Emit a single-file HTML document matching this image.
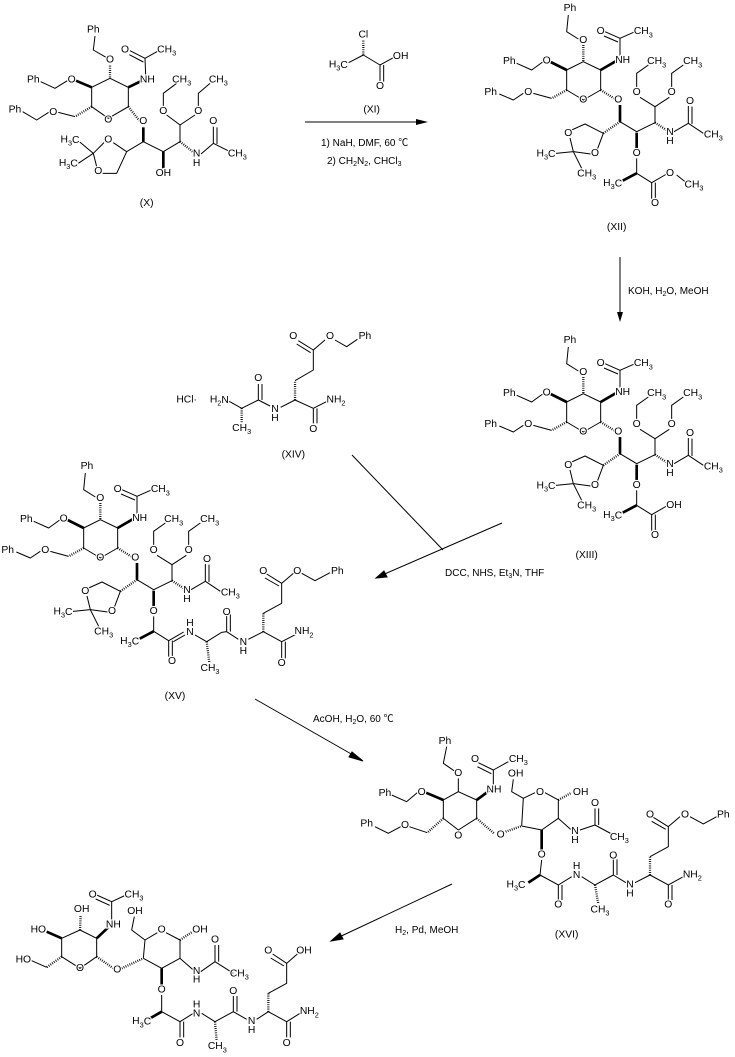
<!DOCTYPE html>
<html><head><meta charset="utf-8"><style>
html,body{margin:0;padding:0;background:#fff}
svg{display:block}
.b{fill:none;stroke:#000;stroke-width:3;stroke-linejoin:round}
.w{fill:none;stroke:#000;stroke-width:8}
.h{fill:none;stroke:#000;stroke-width:7;stroke-dasharray:2.5,4}
.t{font-family:"Liberation Sans",Arial,sans-serif;font-size:31px;text-anchor:middle;dominant-baseline:central;fill:#000;paint-order:stroke;stroke:#fff;stroke-width:7px}
.T{font-family:"Liberation Sans","Noto Sans CJK SC",sans-serif;font-size:10px;fill:#000}
.a{fill:none;stroke:#000;stroke-width:1}
</style></head><body>
<svg width="735" height="1057" viewBox="0 0 735 1057" xmlns="http://www.w3.org/2000/svg">
<defs>
<g id="core">
<path class="b" d="M295,45 L290,95 L325,117"/>
<path class="h" d="M340,135 L340,185"/>
<path class="b" d="M290,210 L340,185 L392,210 L392,270 L340,300 L290,270 Z"/>
<path class="w" d="M392,210 L440,182"/>
<path class="b" d="M450,168 L450,115 L495,95 M450,115 L405,95 M444,126 L402,108"/>
<path class="w" d="M290,210 L242,186"/>
<path class="b" d="M218,186 L185,210 L140,190"/>
<path class="h" d="M290,270 L245,295"/>
<path class="b" d="M245,295 L190,280 M160,280 L130,300 L88,282"/>
<path class="h" d="M392,270 L432,295"/>
<path class="w" d="M450,315 L450,365"/>
<path class="b" d="M450,365 L500,395 L555,368 L555,320 L510,292 M500,262 L500,220 L535,195 M555,320 L598,292 M605,262 L605,220 L640,195"/>
<path class="h" d="M555,368 L592,392"/>
<path class="b" d="M612,395 L655,370 L700,400 M655,370 L655,318 M666,372 L666,320"/>
<path class="w" d="M500,398 L500,446"/>
<path class="b" d="M500,475 L500,520 L545,548 L590,522 M545,548 L545,596 M556,548 L556,596"/>
<path class="w" d="M500,520 L458,542"/>
<path class="h" d="M450,365 L400,400"/>
<path class="b" d="M400,400 L345,372 L305,390 M400,400 L382,448 M362,462 L310,455 L300,414 M310,455 L258,460 M310,455 L335,505"/>
<text class="t" x="300" y="25">Ph</text>
<text class="t" x="340" y="122">O</text>
<text class="t" x="230" y="183">O</text>
<text class="t" x="118" y="185">Ph</text>
<text class="t" x="175" y="277">O</text>
<text class="t" x="62" y="277">Ph</text>
<text class="t" x="340" y="300">O</text>
<text class="t" x="445" y="300">O</text>
<text class="t" x="458" y="182">NH</text>
<text class="t" x="392" y="95">O</text>
<text class="t" x="520" y="95">CH<tspan font-size="22" dy="8">3</tspan></text>
<text class="t" x="500" y="277">O</text>
<text class="t" x="605" y="277">O</text>
<text class="t" x="560" y="185">CH<tspan font-size="22" dy="8">3</tspan></text>
<text class="t" x="668" y="185">CH<tspan font-size="22" dy="8">3</tspan></text>
<text class="t" x="600" y="397">N</text>
<text class="t" x="600" y="425">H</text>
<text class="t" x="660" y="305">O</text>
<text class="t" x="730" y="405">CH<tspan font-size="22" dy="8">3</tspan></text>
<text class="t" x="500" y="460">O</text>
<text class="t" x="295" y="400">O</text>
<text class="t" x="375" y="460">O</text>
<text class="t" x="228" y="462">H<tspan font-size="22" dy="8">3</tspan><tspan dy="-8">C</tspan></text>
<text class="t" x="350" y="522">CH<tspan font-size="22" dy="8">3</tspan></text>
<text class="t" x="428" y="550">H<tspan font-size="22" dy="8">3</tspan><tspan dy="-8">C</tspan></text>
<text class="t" x="555" y="610">O</text>
</g>
</defs>

<!-- (X) -->
<g transform="scale(0.33333)">
<path class="b" d="M285,108 L280,150 L318,172"/>
<path class="h" d="M330,197 L330,235"/>
<path class="b" d="M275,262 L330,235 L385,262 L385,320 L325,355 L275,320 Z"/>
<path class="w" d="M385,262 L430,240"/>
<path class="b" d="M437,225 L435,175 L480,150 M435,175 L390,152 M430,186 L388,164"/>
<path class="w" d="M275,262 L228,242"/>
<path class="b" d="M202,242 L165,265 L122,245"/>
<path class="h" d="M275,320 L225,350"/>
<path class="b" d="M225,350 L175,337 M146,337 L110,360 L68,335"/>
<path class="h" d="M385,320 L418,362"/>
<path class="w" d="M430,382 L430,425"/>
<path class="b" d="M430,425 L490,455 L540,425 L540,375 L500,345 M490,322 L490,280 L530,250 M540,375 L585,345 M595,322 L595,280 L630,250"/>
<path class="w" d="M490,455 L490,505"/>
<path class="h" d="M540,425 L582,458"/>
<path class="b" d="M603,462 L640,430 L690,455 M640,430 L640,380 M651,432 L651,382"/>
<path class="b" d="M430,425 L380,455 L340,428 M312,428 L280,460 L290,500 M308,520 L350,520 L380,455 M280,460 L238,425 M280,460 L235,490"/>
<text class="t" x="280" y="90">Ph</text>
<text class="t" x="330" y="180">O</text>
<text class="t" x="215" y="240">O</text>
<text class="t" x="100" y="240">Ph</text>
<text class="t" x="160" y="337">O</text>
<text class="t" x="45" y="330">Ph</text>
<text class="t" x="325" y="360">O</text>
<text class="t" x="430" y="365">O</text>
<text class="t" x="442" y="240">NH</text>
<text class="t" x="375" y="150">O</text>
<text class="t" x="500" y="150">CH<tspan font-size="22" dy="8">3</tspan></text>
<text class="t" x="490" y="335">O</text>
<text class="t" x="595" y="335">O</text>
<text class="t" x="545" y="240">CH<tspan font-size="22" dy="8">3</tspan></text>
<text class="t" x="655" y="240">CH<tspan font-size="22" dy="8">3</tspan></text>
<text class="t" x="490" y="520">OH</text>
<text class="t" x="590" y="462">N</text>
<text class="t" x="590" y="490">H</text>
<text class="t" x="640" y="365">O</text>
<text class="t" x="712" y="462">CH<tspan font-size="22" dy="8">3</tspan></text>
<text class="t" x="325" y="420">O</text>
<text class="t" x="295" y="515">O</text>
<text class="t" x="210" y="420">H<tspan font-size="22" dy="8">3</tspan><tspan dy="-8">C</tspan></text>
<text class="t" x="205" y="490">H<tspan font-size="22" dy="8">3</tspan><tspan dy="-8">C</tspan></text>
<text class="t" x="440" y="610" font-size="30">(X)</text>
</g>

<!-- (XI) -->
<g transform="translate(290,20) scale(0.33333)">
<path class="h" d="M220,62 L220,105"/>
<path class="b" d="M220,105 L172,130 M220,105 L270,135 L312,112 M270,135 L270,185 M281,135 L281,185"/>
<text class="t" x="220" y="45">Cl</text>
<text class="t" x="145" y="135">H<tspan font-size="22" dy="8">3</tspan><tspan dy="-8">C</tspan></text>
<text class="t" x="332" y="110">OH</text>
<text class="t" x="270" y="200">O</text>
<text class="t" x="245" y="270" font-size="30">(XI)</text>
</g>
<line class="a" x1="305" y1="122" x2="424" y2="122"/>
<path d="M416,119 L428,122 L416,125 Z" fill="#000"/>
<text class="T" x="321" y="146">1) NaH, DMF, 60 ℃</text>
<text class="T" x="327" y="164">2) CH<tspan font-size="7" dy="2">2</tspan><tspan dy="-2">N</tspan><tspan font-size="7" dy="2">2</tspan><tspan dy="-2">, CHCl</tspan><tspan font-size="7" dy="2">3</tspan></text>

<!-- (XII) -->
<g transform="translate(470,0) scale(0.33333)">
<use href="#core"/>
<path class="b" d="M620,525 L645,545"/>
<text class="t" x="600" y="520">O</text>
<text class="t" x="672" y="555">CH<tspan font-size="22" dy="8">3</tspan></text>
<text class="t" x="440" y="683" font-size="30">(XII)</text>
</g>

<line class="a" x1="620" y1="257" x2="620" y2="318"/>
<path d="M617,312 L620,322 L623,312 Z" fill="#000"/>
<text class="T" x="628" y="294">KOH, H<tspan font-size="7" dy="2">2</tspan><tspan dy="-2">O, MeOH</tspan></text>

<!-- (XIII) -->
<g transform="translate(470,332) scale(0.33333)">
<use href="#core"/>
<text class="t" x="612" y="520">OH</text>
<text class="t" x="350" y="670" font-size="30">(XIII)</text>
</g>

<!-- (XIV) -->
<g transform="translate(160,320) scale(0.33333)">
<path class="h" d="M245,265 L245,308"/>
<path class="b" d="M200,240 L245,265 L295,240 L330,258 M295,240 L295,192 M306,240 L306,192 M362,262 L405,240 L460,265 L505,242 M460,265 L460,310 M471,265 L471,310"/>
<path class="h" d="M405,240 L405,182"/>
<path class="b" d="M405,182 L460,150 L460,90 L415,62 M460,90 L495,60 M525,60 L560,80 L592,58 M452,98 L410,72"/>
<text class="t" x="80" y="240">HCl·</text>
<text class="t" x="178" y="240">H<tspan font-size="22" dy="8">2</tspan><tspan dy="-8">N</tspan></text>
<text class="t" x="245" y="325">CH<tspan font-size="22" dy="8">3</tspan></text>
<text class="t" x="295" y="175">O</text>
<text class="t" x="345" y="268">N</text>
<text class="t" x="345" y="295">H</text>
<text class="t" x="528" y="240">NH<tspan font-size="22" dy="8">2</tspan></text>
<text class="t" x="460" y="328">O</text>
<text class="t" x="400" y="50">O</text>
<text class="t" x="510" y="50">O</text>
<text class="t" x="615" y="50">Ph</text>
<text class="t" x="400" y="405" font-size="30">(XIV)</text>
</g>

<line class="a" x1="352" y1="455" x2="443" y2="550"/>
<line class="a" x1="502" y1="523" x2="380" y2="576"/>
<path d="M384,571 L376,578 L387,577 Z" fill="#000" stroke="#000"/>
<text class="T" x="445" y="576">DCC, NHS, Et<tspan font-size="7" dy="2">3</tspan><tspan dy="-2">N, THF</tspan></text>

<!-- (XV) -->
<g transform="translate(-13,458) scale(0.33333)">
<use href="#core"/>
</g>
<g transform="translate(0,450) scale(0.33333)">
<path class="b" d="M520,575 L555,555 M585,555 L620,575 L665,547 M680,545 L715,568 M680,545 L680,492 M691,545 L691,492 M745,568 L790,545 L845,575 L890,552 M845,575 L845,625 M856,575 L856,625"/>
<path class="h" d="M620,575 L628,638"/>
<path class="b" d="M665,547 L680,545"/>
<path class="h" d="M790,545 L790,490"/>
<path class="b" d="M790,490 L845,460 L845,400 L800,372 M837,408 L795,384 M845,400 L880,370 M905,370 L945,392 L990,368"/>
<text class="t" x="570" y="520">H</text>
<text class="t" x="570" y="548">N</text>
<text class="t" x="630" y="655">CH<tspan font-size="22" dy="8">3</tspan></text>
<text class="t" x="680" y="488">O</text>
<text class="t" x="730" y="578">N</text>
<text class="t" x="730" y="605">H</text>
<text class="t" x="912" y="545">NH<tspan font-size="22" dy="8">2</tspan></text>
<text class="t" x="845" y="640">O</text>
<text class="t" x="790" y="365">O</text>
<text class="t" x="892" y="365">O</text>
<text class="t" x="1012" y="365">Ph</text>
<text class="t" x="525" y="740" font-size="30">(XV)</text>
</g>

<line class="a" x1="255" y1="699" x2="360" y2="759"/>
<path d="M352,752 L363,761 L349,757 Z" fill="#000" stroke="#000"/>
<text class="T" x="313" y="722">AcOH, H<tspan font-size="7" dy="2">2</tspan><tspan dy="-2">O,  60 ℃</tspan></text>

<!-- (XVI) -->
<g transform="translate(340,730) scale(0.33333)">
<path class="b" d="M310,265 L310,210 L355,185 L410,210 L410,265 L355,300 L310,265"/>
<path class="b" d="M320,50 L310,100 L342,122 M355,145 L355,185"/>
<path class="w" d="M410,210 L448,182"/>
<path class="b" d="M460,165 L460,120 L505,95 M460,120 L415,98 M454,131 L412,110"/>
<path class="w" d="M310,210 L258,188"/>
<path class="b" d="M232,188 L200,215 L155,195"/>
<path class="h" d="M310,265 L262,308"/>
<path class="b" d="M262,308 L208,290 M182,290 L145,310 L105,290"/>
<path class="h" d="M410,265 L462,310"/>
<path class="h" d="M497,305 L545,288"/>
<path class="b" d="M545,288 L550,205 L585,188 M615,188 L655,210 L655,265 L605,300 L545,288 M550,205 L515,185 L520,148 M655,265 L692,298 M720,300 L765,285 L815,312 M765,285 L765,235 M776,285 L776,235"/>
<path class="h" d="M655,210 L695,188"/>
<path class="w" d="M605,300 L605,360"/>
<path class="b" d="M605,390 L600,435 L655,465 L695,440 M655,465 L655,510 M666,465 L666,510 M725,440 L765,465 L820,435 L858,458 M820,435 L820,388 M831,435 L831,388 M885,458 L930,435 L985,465 L1030,440 M985,465 L985,510 M996,465 L996,510"/>
<path class="w" d="M600,435 L565,458"/>
<path class="h" d="M765,465 L775,522"/>
<path class="h" d="M930,435 L930,380"/>
<path class="b" d="M930,380 L985,350 L985,290 L940,262 M977,298 L935,274 M985,290 L1020,260 M1050,260 L1090,282 L1130,260"/>
<text class="t" x="315" y="35">Ph</text>
<text class="t" x="355" y="130">O</text>
<text class="t" x="462" y="180">NH</text>
<text class="t" x="405" y="88">O</text>
<text class="t" x="535" y="88">CH<tspan font-size="22" dy="8">3</tspan></text>
<text class="t" x="245" y="187">O</text>
<text class="t" x="135" y="190">Ph</text>
<text class="t" x="195" y="287">O</text>
<text class="t" x="80" y="282">Ph</text>
<text class="t" x="355" y="318">O</text>
<text class="t" x="482" y="315">O</text>
<text class="t" x="527" y="132">OH</text>
<text class="t" x="600" y="187">O</text>
<text class="t" x="722" y="187">OH</text>
<text class="t" x="705" y="305">N</text>
<text class="t" x="705" y="332">H</text>
<text class="t" x="765" y="220">O</text>
<text class="t" x="838" y="322">CH<tspan font-size="22" dy="8">3</tspan></text>
<text class="t" x="605" y="375">O</text>
<text class="t" x="528" y="465">H<tspan font-size="22" dy="8">3</tspan><tspan dy="-8">C</tspan></text>
<text class="t" x="655" y="525">O</text>
<text class="t" x="710" y="410">H</text>
<text class="t" x="710" y="437">N</text>
<text class="t" x="780" y="540">CH<tspan font-size="22" dy="8">3</tspan></text>
<text class="t" x="820" y="378">O</text>
<text class="t" x="870" y="465">N</text>
<text class="t" x="870" y="492">H</text>
<text class="t" x="1057" y="435">NH<tspan font-size="22" dy="8">2</tspan></text>
<text class="t" x="985" y="525">O</text>
<text class="t" x="930" y="255">O</text>
<text class="t" x="1035" y="255">O</text>
<text class="t" x="1150" y="255">Ph</text>
<text class="t" x="680" y="615" font-size="30">(XVI)</text>
</g>

<line class="a" x1="452" y1="884" x2="335" y2="939"/>
<path d="M340,933 L331,941 L343,939 Z" fill="#000" stroke="#000"/>
<text class="T" x="395" y="933">H<tspan font-size="7" dy="2">2</tspan><tspan dy="-2">, Pd, MeOH</tspan></text>

<!-- final -->
<g transform="translate(0,880) scale(0.33333)">
<path class="b" d="M185,230 L185,175 L240,150 L290,175 L290,230 L240,265 L185,230"/>
<path class="h" d="M240,150 L242,105"/>
<path class="w" d="M185,175 L140,155"/>
<path class="w" d="M290,175 L325,142"/>
<path class="b" d="M335,125 L335,65 L378,45 M335,65 L290,45 M329,76 L287,57"/>
<path class="h" d="M185,230 L140,262"/>
<path class="b" d="M140,262 L95,242"/>
<path class="h" d="M290,230 L340,265"/>
<path class="h" d="M365,265 L430,235"/>
<path class="b" d="M430,235 L435,180 L472,158 M498,158 L540,180 L540,235 L485,265 L430,235 M435,180 L395,150 L403,110 M540,235 L580,270 M602,275 L645,245 L700,280 M645,245 L645,195 M656,245 L656,195"/>
<path class="h" d="M540,180 L578,155"/>
<path class="w" d="M485,265 L485,315"/>
<path class="b" d="M485,345 L485,395 L540,425 L580,400 M540,425 L540,472 M551,425 L551,472 M605,400 L645,425 L700,395 L740,418 M700,395 L700,348 M711,395 L711,348 M770,418 L805,395 L860,425 L900,400 M860,425 L860,472 M871,425 L871,472"/>
<path class="w" d="M485,395 L445,418"/>
<path class="h" d="M645,425 L650,482"/>
<path class="h" d="M805,395 L805,340"/>
<path class="b" d="M805,340 L860,310 L860,250 L818,222 M852,258 L812,234 M860,250 L892,222"/>
<text class="t" x="245" y="88">OH</text>
<text class="t" x="115" y="150">HO</text>
<text class="t" x="340" y="135">NH</text>
<text class="t" x="278" y="45">O</text>
<text class="t" x="402" y="45">CH<tspan font-size="22" dy="8">3</tspan></text>
<text class="t" x="70" y="240">HO</text>
<text class="t" x="240" y="265">O</text>
<text class="t" x="352" y="270">O</text>
<text class="t" x="405" y="95">OH</text>
<text class="t" x="485" y="150">O</text>
<text class="t" x="600" y="150">OH</text>
<text class="t" x="590" y="275">N</text>
<text class="t" x="590" y="300">H</text>
<text class="t" x="645" y="180">O</text>
<text class="t" x="718" y="282">CH<tspan font-size="22" dy="8">3</tspan></text>
<text class="t" x="485" y="330">O</text>
<text class="t" x="425" y="425">H<tspan font-size="22" dy="8">3</tspan><tspan dy="-8">C</tspan></text>
<text class="t" x="540" y="490">O</text>
<text class="t" x="590" y="375">H</text>
<text class="t" x="590" y="402">N</text>
<text class="t" x="652" y="500">CH<tspan font-size="22" dy="8">3</tspan></text>
<text class="t" x="700" y="335">O</text>
<text class="t" x="755" y="425">N</text>
<text class="t" x="755" y="452">H</text>
<text class="t" x="928" y="395">NH<tspan font-size="22" dy="8">2</tspan></text>
<text class="t" x="860" y="490">O</text>
<text class="t" x="805" y="213">O</text>
<text class="t" x="912" y="213">OH</text>
</g>
</svg>
</body></html>
